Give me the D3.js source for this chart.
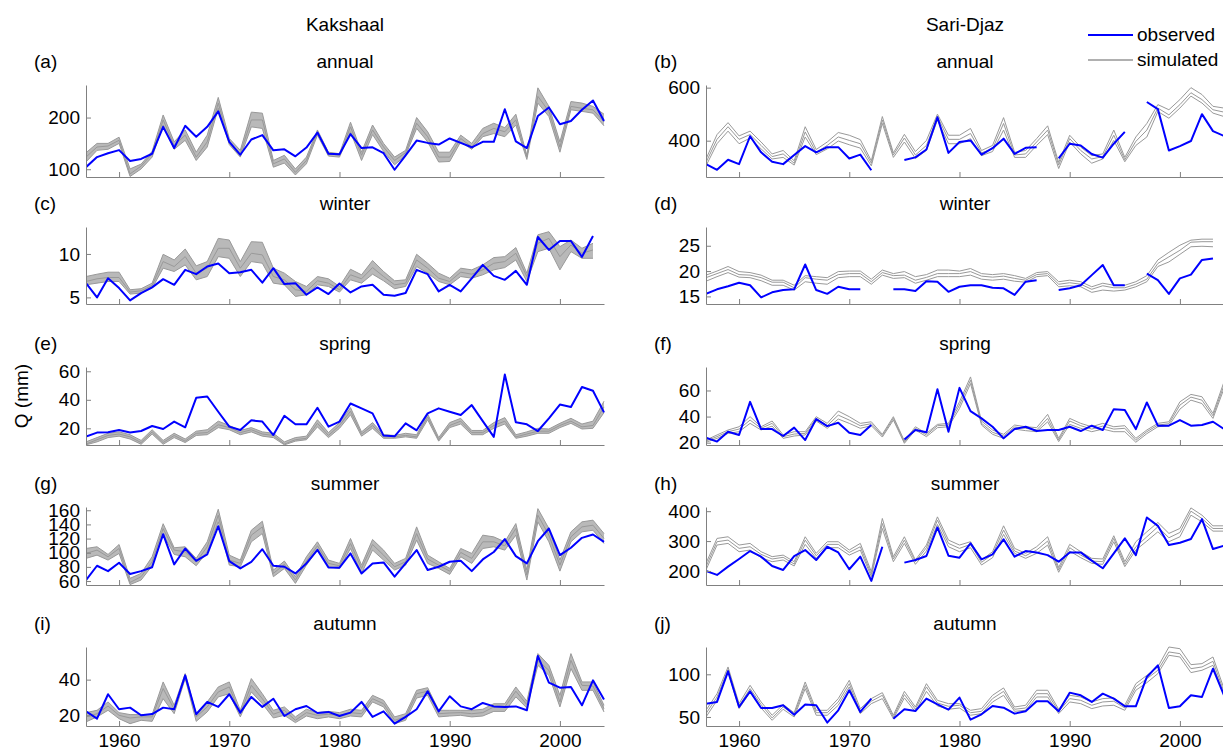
<!doctype html>
<html lang="en">
<head>
  <meta charset="utf-8">
  <title>Kakshaal / Sari-Djaz runoff</title>
  <script src="https://cdn.jsdelivr.net/npm/d3@7"></script>
  <style>
    body { margin: 0; background: #fff; }
    text { font-family: "Liberation Sans", Arial, sans-serif; fill: #000; }
  </style>
</head>
<body>
  <div id="container"></div>
<script>
// ---- data ----
const years = [1957,1958,1959,1960,1961,1962,1963,1964,1965,1966,1967,1968,1969,1970,1971,1972,
  1973,1974,1975,1976,1977,1978,1979,1980,1981,1982,1983,1984,1985,1986,1987,1988,1989,1990,
  1991,1992,1993,1994,1995,1996,1997,1998,1999,2000,2001,2002,2003,2004];
const winterYears = years.slice(0, 47);   // winter series stops in 2003
const xTicks = [1960, 1970, 1980, 1990, 2000];

const columnTitles = ['Kakshaal', 'Sari-Djaz'];
const seasons = ['annual', 'winter', 'spring', 'summer', 'autumn'];
const panelLetters = ['a','b','c','d','e','f','g','h','i','j'];

// Kakshaal
const kakAnnualObs = [104,123.5,131,137,116,120,130,182,141,184,163,182,212,153,128,157.5,166,136.6,138.6,125,142,171,130,129,168,141,142.5,131,99,127,155.5,151,147.7,159.5,151,142.5,153,153,216,154,141,203,219.6,187,193.5,215,233,193.5];
const kakAnnualHi = [132,150,150,162,100.6,110,134.6,205,153,176,133,166,239,159.5,136.6,210.5,208.5,117,127,100.6,123.5,176,133,130,191,133,185.6,150,123.5,136.6,200,172.5,133,133,166,150,179,189,180.4,206.5,127,257.5,221.6,153,231,228,221.6,206.5];
const kakAnnualMid = [123.5,143,145,156,91,106,130,195.4,146,166,123.5,153,228,153,130,195.4,195.4,110.5,120,94,117,171,130,127,182,127,176,143,117,132,189,163,123.5,123.5,159.5,143,169,179,172.5,195.4,123.5,241,212,143,221.6,218,215,192];
const kakAnnualLo = [114,136.6,138.6,150,86,100.6,123.5,185.6,138.6,156,117,143,218,147.7,123.5,182,179,104,112,89,110.5,166,125.5,123.5,172.5,117,167,134.6,108.5,127,179,153,114,115,153,138.6,163,169,163,185.6,119,228,202,133,215,212,208.5,184];

const kakWinterObs = [6.64,5.0,7.2,6.07,4.66,5.5,6.15,7.1,6.45,8.17,7.67,8.55,8.9,7.79,7.9,8.17,6.7,8.36,6.53,6.64,5.3,6.15,5.38,6.6,5.57,6.26,6.45,5.3,5.19,5.5,8.17,7.67,5.69,6.45,5.69,7.2,8.74,7.48,7.02,8.05,6.45,11.95,10.46,11.49,11.49,9.66,12.06];
const kakWinterHi = [7.4,7.67,7.9,7.9,5.88,6.0,6.64,9.96,9.31,10.57,8.63,9.12,11.79,11.6,9.12,11.41,11.34,8.36,7.79,6.83,6.26,7.4,7.14,6.26,8.24,7.6,9.24,7.98,6.91,7.02,9.96,8.93,7.79,7.21,8.36,8.17,8.74,9.58,9.69,10.73,7.79,12.2,12.56,10.84,11.6,10.65,11.22];
const kakWinterMid = [6.83,7.14,7.29,7.29,5.61,5.76,6.37,9.12,8.55,9.69,7.79,8.36,10.65,10.65,8.36,10.08,9.89,7.4,7.02,5.88,5.69,6.91,6.64,5.88,7.6,7.14,8.43,7.4,6.45,6.64,9.31,8.36,7.21,6.83,7.9,7.67,8.17,8.93,9.12,10.08,7.4,11.22,11.79,9.69,11.03,10.08,10.46];
const kakWinterLo = [6.45,6.64,6.83,6.83,5.38,5.5,6.07,8.36,7.98,8.74,7.02,7.4,9.69,9.5,7.4,9.12,8.93,6.64,6.45,5.11,5.3,6.45,6.26,5.61,7.02,6.64,7.67,6.91,6.0,6.26,8.55,7.79,6.83,6.45,7.4,7.21,7.6,8.17,8.43,9.31,6.83,10.27,10.65,8.17,10.27,9.5,9.5];

const kakSpringObs = [14.2,17,17.2,18.8,17,18.1,21.6,19.5,24.7,20.7,41.4,42.3,31.6,21.2,18.8,25.6,24.7,15.3,28.8,22.8,22.8,34.4,21.2,24.7,37.4,34,30.5,14.9,14.4,23.5,18.6,30.5,34,31.6,29.3,36.3,25,14,57.7,24.2,22.8,18.1,27,36.7,35,49,46.3,31.2];
const kakSpringHi = [10.5,13.5,16.5,17.5,15.5,11.5,19,11.5,16.5,12.5,18,19,25,22,18.5,20.5,17.5,16.5,10.5,13.5,14.5,26,17,24,34.5,17.5,24,15.5,15,16.5,15.5,30,13.5,24,27,18.5,18.5,24,27.5,15.5,17.5,20,19.5,23.5,27,23,25,39];
const kakSpringMid = [9,12,15,16,14,10,17.5,10,15,11,16.5,17,22.5,20.5,17,19,16,15,9,12,13,23.5,15,22,32,16,22,14,14,15,14,28,12,22,25,17,17,22,25,14,16,18,18,22,25,21,22,35];
const kakSpringLo = [8.4,10.5,13.5,14.5,12.5,8.8,16,8.8,13.5,10,15,15.5,20.5,19,15.5,17.5,14.5,13.5,8.4,11,12,21,13.5,20,29.5,14.5,20,13,13,14,13,26,11,20.5,23,15.5,15.5,20,23,13,14.5,16.5,16.5,20.5,23.5,19.5,20,31];

const kakSummerObs = [61.4,81.6,74,85.8,69.9,74,79.5,126.2,83.5,106,88.6,97.6,137.5,88.2,77.8,87.2,105,81.6,80.2,70.8,84.9,104,79.2,78.8,99,70.8,84.9,86.3,66.1,84.9,103.7,75.5,80.2,87.2,88.6,74,90.5,101,119.2,95.2,84.9,116.3,134.2,96.6,107,121,125.7,115.4];
const kakSummerHi = [106,108.4,97.6,111.6,63.8,70.8,94.3,141,107,108.4,92,115.4,161.4,96.6,89.6,131.8,144.5,75.5,88.2,66.1,94.3,115.4,89.6,84.9,120.1,82.5,118.7,103.7,84.9,92,136.5,96.6,87.2,77.8,106,99,124.8,122.4,115.4,141.2,75.5,162.3,134.2,89.6,129.5,143.6,146,127.1];
const kakSummerMid = [99,103.7,94.3,106,58,66.1,87.2,134,103.7,101.3,87.2,108.4,153,89.6,84.9,124.8,136.5,70.8,83.5,61.4,88.2,109.8,84.9,81.6,113,77.8,111.6,96.6,80.2,87.2,127.1,91,82.5,74,100.4,92,115.4,115.4,109.8,134.2,68.5,153,124.8,82.5,122.4,136.5,138.9,120.1];
const kakSummerLo = [92,96.6,89.6,99,55,61.4,81.6,125.7,97.6,94.3,81.6,101.3,143.6,82.5,80.2,115.4,127.1,66.1,77.8,56.7,82.5,103.7,80.2,77.8,106,70.8,103.7,89.6,75.5,82.5,117.7,84.9,77.8,69.4,94.3,84.9,106,108.4,103.7,124.8,61.4,143.6,115.4,74,115.4,129.5,131.8,113];

const kakAutumnObs = [22.2,18.1,31.8,23.4,24.3,20,20.7,24.3,23.4,42.4,20.6,27.5,24.7,31.8,21.5,30.3,24.7,29.3,19.6,23.4,25.2,21.3,21.9,19.6,21.5,27.5,19.1,22.2,15.3,19.1,23.4,33.5,22.2,30.7,25,23.4,26.9,25,24.7,25,22.8,53.3,38.3,35.5,35.9,25.6,39.6,28.8];
const kakAutumnHi = [21.5,22.8,27.5,21.5,20.4,20.4,20.4,38.7,25.6,43.4,20.9,27.5,35.9,38.7,22.8,40.6,32.1,22.8,24.7,19.1,23.4,21.5,22.2,21.5,23.4,22.8,31.2,28.4,19.1,20.9,34,35.5,22.8,22.8,22.8,22.8,23.4,26.5,26.5,35.9,27.9,54.6,48,31.2,54.6,38.7,38.7,25.6];
const kakAutumnMid = [19.1,20.9,25.2,20,18.5,19.1,19.1,35,23.4,42,19.1,24.7,33.1,35.9,20.9,36.8,29.3,20.6,22.8,17.2,21.5,20,20.6,20,21.5,20.9,29.3,26.5,17.2,19.1,32.1,33.5,20.9,21.3,21.5,20.9,21.5,24.7,24.7,33.5,26,50.8,45.2,27.5,50.8,36.8,36.4,23.7];
const kakAutumnLo = [16.3,19.1,22.8,18.1,15.3,17.2,16.6,29.3,20.9,40.6,16.6,21.9,30.3,32.1,19.1,33.1,26.5,18.5,20,15.9,19.6,18.1,19.1,18.1,19.6,19.1,27.5,24.7,15.3,17.2,29.7,31.2,19.1,19.6,20,19.1,19.6,22.2,22.2,30.3,24.1,48,42.4,24.7,46.2,34,34,21.9];

// Sari-Djaz (null = no observation)
const sariAnnualObs = [311.5,290,328,311.5,416.7,356,320.5,311.5,346,379.5,356,375.6,375.6,333,347.4,288.5,null,null,327,337,366.7,488.5,354,395,401,347.4,371.8,407.7,350,373,375.6,null,333,388.5,382,350,336,388.5,433,null,546,519,363,379.5,398.7,500,436,418];
const sariAnnualHi = [331,423,468,418,436,395,350,363,324,452.6,366.7,395,430.8,420.5,404,324,491,354,424,359,401,500,420.5,420.5,446,363,382,487,356,363,407.7,456,318,420.5,375.6,343.6,350,440,337,414,465,536,516.7,555,600,574,529.5,523];
const sariAnnualMid = [318,405,452.6,405,423,382,340,350,315,433,356,382,414,401,388.5,315,478,346,410,346,382,491,405,405,427,354,369,465,346,350,395,440,308,407.7,363,331,340,420.5,328,397.4,440,523,497.4,536,580.8,555,516.7,507.7];
const sariAnnualLo = [305,388.5,436,388.5,410,369,331,337,308,414,347.4,369,398.7,384.6,372,305,465,337,395,333,363,478,388.5,388.5,407.7,343.6,359,440,337,337,382,423,295,395,350,315,331,401,320.5,382,414,510,484.6,523,568,542,504,491];

const sariWinterObs = [15.5,16.4,17,17.7,17.2,14.8,15.8,16.25,16.4,21.3,16.25,15.5,16.9,16.4,16.4,null,null,16.4,16.4,16.05,18,17.9,15.9,16.9,17.2,17.2,16.7,16.6,15.3,17.9,18.2,null,16.25,16.6,17.2,19.2,21.2,17.2,17.2,null,19.5,18.2,15.5,18.55,19.3,22.2,22.5];
const sariWinterHi = [19.2,20,20.9,19.9,19.7,19.2,18.2,18.2,17.2,19.1,18.9,18.7,19.9,20,20,18.4,20.2,19.5,19.9,18.9,19.3,20.2,20.2,20,20.5,19.5,19.3,19.5,19.1,18.55,19.7,19.9,17.9,18.2,17.9,16.9,17.6,17.2,17.2,17.9,19.1,22.2,23.7,25.1,26.1,26.3,26.3];
const sariWinterMid = [18.7,19.5,20.3,19.3,19.2,18.7,17.8,17.8,16.7,18.7,18.4,18.2,19.3,19.5,19.5,17.9,19.7,19.1,19.2,18.2,18.75,19.5,19.5,19.5,19.9,19,18.8,19,18.55,18.2,19.3,19.5,17.4,17.7,17.4,16.4,17.1,16.7,16.7,17.4,18.4,21.5,22.8,24.1,25.7,25.8,25.8];
const sariWinterLo = [18,18.9,19.7,18.8,18.7,18.1,17.2,17.2,16.25,17.9,17.6,17.4,18.7,18.9,18.9,17.4,19.2,18.55,18.7,17.6,18.2,18.9,18.9,18.9,19.2,18.4,18.2,18.4,18,17.8,18.9,19.1,16.9,17.1,16.9,15.8,16.25,16.05,16.25,16.9,17.9,20.9,21.8,23.3,24.8,24.9,24.8];

const sariSpringObs = [23.8,20.8,28.4,25.9,51.3,30.4,30.4,25.1,31.5,22,38.1,32.7,35.3,27.6,25.9,33.5,null,null,22.5,29.7,27.9,61,28.4,62,44.2,38.6,32.2,23.3,30.4,32.2,28.9,29.7,29.7,32.2,28.9,33,29.7,45.7,45,30.4,50.8,33,33,37.3,33,33.5,36,30.4];
const sariSpringHi = [22,25.9,29.7,32.2,39.9,32.2,36.6,25.9,28.4,28.4,39.9,34.8,44.2,39.9,34.8,36,26.4,39.9,21.3,32.2,27.1,34,34.8,51.3,70.4,36.6,29.7,26.4,33.5,32.2,31.5,41.7,23.3,38.6,34.8,32.2,34.8,32.2,33,23.3,29.7,34.8,36,51.3,57,55.2,42.4,66.6];
const sariSpringMid = [21.3,24.6,28.4,30.4,37.3,31,34.8,24.6,26.6,27.1,38.6,33,41.1,37.3,33,34.5,25.4,38.6,20.3,31,25.9,33,33.5,48.8,67.9,34.8,27.9,25.1,32,31,29.7,38.6,22,36.6,33,30.4,32.7,30.4,31,21.8,28.4,33.5,34.5,48.8,54.9,52.6,40.6,64];
const sariSpringLo = [20.3,23.3,27.1,28.4,34.8,29.7,32.7,23.3,25.1,25.9,36.6,31,38.1,34.8,31,33,24.3,37.3,19.5,29.7,24.6,31.5,32.2,46.2,65.3,33.5,26.4,23.3,30.4,29.2,28.4,36,20.8,34,31,28.4,30.4,28.4,28.4,20.3,26.9,32.2,33,45.7,52.6,50,38.6,61.5];

const sariSummerObs = [200,186.7,214.4,240,266.7,247.8,216.7,203.3,250,270,236.7,281,262,205.6,247.8,166.7,281,null,227.8,236.7,250,345.6,251,244.4,292.2,238.9,255.6,305.6,247.8,266.7,262,253,231,262,262,234.4,208.9,258.9,308.9,253,378.9,351,286.7,294.4,306.7,373.3,273.3,284.4];
const sariSummerHi = [225.6,308.9,314.4,286.7,292.2,264.4,247.8,253,231,314.4,258.9,297.8,297.8,270,292.2,197.8,375.6,247.8,314.4,236.7,286.7,381,303.3,286.7,297.8,236.7,264.4,351,275.6,258.9,281,314.4,211.1,288.9,264.4,242.2,240,317.8,231,297.8,331,362.2,325.6,342.2,411,386.7,351,351];
const sariSummerMid = [214.4,297.8,303.3,275.6,281,255.6,240,245.6,223.3,303.3,251,288.9,288.9,262,281,188.9,358.9,240,303.3,231,277.8,370,292.2,275.6,288.9,228.9,255.6,336.7,266.7,251,270,300,203.3,277.8,253,233.3,231,308.9,222.2,281,314.4,347.8,311.1,328.9,400,375.6,342.2,342.2];
const sariSummerLo = [203.3,286.7,292.2,264.4,270,244.4,231,236.7,216.7,288.9,242.2,277.8,277.8,253,270,181,342.2,231,292.2,222.2,266.7,355.6,281,264.4,277.8,220,244.4,322.2,258.9,242.2,258.9,286.7,195.6,266.7,244.4,225.6,222.2,297.8,214.4,270,300,331,297.8,314.4,386.7,364.4,333.3,333.3];

const sariAutumnObs = [65.6,67.6,103.5,61.7,80,60.5,60.5,63.7,52.7,64.5,63.7,43.4,57.8,81.3,55.9,71.5,null,48,59,57,71.5,64.8,58.6,72.7,46.9,53.1,62.9,60.9,53.9,56.6,68.4,68.4,56.6,78.5,75.4,67.6,77.3,71.5,62.5,62.5,96.9,110.5,60.5,62.5,75.4,73.4,106.6,75.4];
const sariAutumnHi = [57.8,77.3,108.6,65.6,87.1,67.6,52,64.5,55,91,57.8,57.8,71.5,93,59.8,71.5,78.5,52,80,61.7,89,69.5,65.6,65.6,57.8,59.8,75.4,84,61.7,63.7,81.3,81.3,59,75.4,73.4,67.6,71.5,72.3,63.7,89,98.8,108.6,132,130,111.3,112.5,120.3,83.2];
const sariAutumnMid = [53.9,73.4,105.5,62.9,83.2,64.5,48.8,61.7,52.7,87.1,55,55,67.6,89,56.6,68.4,75.4,50,76.2,59,85.2,66.4,62.5,63.7,55,56.6,71.5,80,59,60.5,77.3,77.3,56.6,71.5,69.5,63.7,67.6,68.4,60.5,85.2,94.9,104.7,126.2,124.2,106.6,108.6,115.2,79.3];
const sariAutumnLo = [50,69.5,102.7,59.8,79.3,60.5,46.1,59,50,83.2,52,52,63.7,85.2,53.9,65.6,71.5,48,72.3,55.9,80,62.9,59,60.5,52,53.9,67.6,75.4,56.6,57.8,73.4,73.4,53.9,67.6,65.6,59.8,62.9,63.7,57.8,81.3,90.2,100.8,122.3,120.3,102,104.7,110.5,75.4];

// y limits (tight, as in the figure) and tick values per panel
const yLimits = [[85,263],[263,610],[4.24,13.1],[13.5,28.7],[8.3,63],[18.2,78],[54.4,164.6],[153,414],[14,58.3],[39.4,132]];
const yTicks = [[100,200],[400,600],[5,10],[15,20,25],[20,40,60],[20,40,60],[60,80,100,120,140,160],[200,300,400],[20,40],[50,100]];

const panels = [
  [kakAnnualObs, kakAnnualHi, kakAnnualMid, kakAnnualLo, years],
  [sariAnnualObs, sariAnnualHi, sariAnnualMid, sariAnnualLo, years],
  [kakWinterObs, kakWinterHi, kakWinterMid, kakWinterLo, winterYears],
  [sariWinterObs, sariWinterHi, sariWinterMid, sariWinterLo, winterYears],
  [kakSpringObs, kakSpringHi, kakSpringMid, kakSpringLo, years],
  [sariSpringObs, sariSpringHi, sariSpringMid, sariSpringLo, years],
  [kakSummerObs, kakSummerHi, kakSummerMid, kakSummerLo, years],
  [sariSummerObs, sariSummerHi, sariSummerMid, sariSummerLo, years],
  [kakAutumnObs, kakAutumnHi, kakAutumnMid, kakAutumnLo, years],
  [sariAutumnObs, sariAutumnHi, sariAutumnMid, sariAutumnLo, years]
];

// ---- layout ----
const W = 1223, H = 750;
const colX = [86, 706], plotW = 518;
const rowTop = [85, 227, 367, 507, 647], rowH = [92, 77, 78, 78, 79];
const axisColor = '#808080', obsColor = '#0000ff', simColor = '#999999', bandColor = '#b9b9b9';
const fontSize = 19;

const svg = d3.select('#container')
  .append('svg')
  .attr('width', W)
  .attr('height', H);

// column titles
columnTitles.forEach((t, c) => {
  svg.append('text')
    .attr('x', colX[c] + plotW / 2)
    .attr('y', 31)
    .attr('text-anchor', 'middle')
    .style('font-size', fontSize + 'px')
    .text(t);
});

panels.forEach((p, i) => {
  const col = i % 2, row = Math.floor(i / 2);
  const [obs, hi, mid, lo, yrs] = p;
  const x0 = colX[col], y0 = rowTop[row], h = rowH[row];

  const x = d3.scaleLinear().domain([1957, 2004]).range([0, plotW]);
  const y = d3.scaleLinear().domain(yLimits[i]).range([h, 0]);

  const g = svg.append('g').attr('transform', `translate(${x0},${y0})`);

  // panel letter and season title
  svg.append('text')
    .attr('x', x0 - 52)
    .attr('y', y0 - 17)
    .style('font-size', fontSize + 'px')
    .text('(' + panelLetters[i] + ')');
  svg.append('text')
    .attr('x', x0 + plotW / 2)
    .attr('y', y0 - 17)
    .attr('text-anchor', 'middle')
    .style('font-size', fontSize + 'px')
    .text(seasons[row]);

  g.append('clipPath').attr('id', 'clip' + i)
    .append('rect').attr('x', 0).attr('y', -1).attr('width', plotW + 2).attr('height', h + 2);

  const plot = g.append('g').attr('clip-path', `url(#clip${i})`);

  const line = arr => d3.line()
    .defined((d, k) => arr[k] != null)
    .x(d => x(d))
    .y((d, k) => y(arr[k]))(yrs);

  // simulated ensemble spread (dense in the Kakshaal runs)
  if (col === 0) {
    plot.append('path')
      .attr('d', d3.area().x(d => x(d)).y0((d, k) => y(lo[k])).y1((d, k) => y(hi[k]))(yrs))
      .attr('fill', bandColor);
  }
  [hi, mid, lo].forEach(s => {
    plot.append('path')
      .attr('d', line(s))
      .attr('fill', 'none')
      .attr('stroke', simColor)
      .attr('stroke-width', 1);
  });

  // observed
  plot.append('path')
    .attr('d', line(obs))
    .attr('fill', 'none')
    .attr('stroke', obsColor)
    .attr('stroke-width', 2)
    .attr('stroke-linejoin', 'round');

  // axes, MATLAB style: ticks inside, no box
  const yAxis = d3.axisLeft(y).tickValues(yTicks[i]).tickSizeInner(-5).tickSizeOuter(0).tickPadding(6);
  const xAxis = d3.axisBottom(x).tickValues(xTicks).tickSizeInner(-5).tickSizeOuter(0).tickPadding(8)
    .tickFormat(row === 4 ? d3.format('d') : () => '');

  const ga = g.append('g').call(yAxis);
  const gx = g.append('g').attr('transform', `translate(0,${h})`).call(xAxis);
  [ga, gx].forEach(a => {
    a.select('.domain').attr('stroke', axisColor);
    a.selectAll('.tick line').attr('stroke', axisColor);
    a.selectAll('.tick text')
      .style('font-size', fontSize + 'px')
      .style('font-family', '"Liberation Sans", Arial, sans-serif')
      .attr('fill', '#000');
  });
});

// y label
svg.append('text')
  .attr('transform', 'translate(28,396) rotate(-90)')
  .attr('text-anchor', 'middle')
  .style('font-size', fontSize + 'px')
  .text('Q (mm)');

// legend
const legend = svg.append('g');
[['observed', obsColor, 35], ['simulated', '#b0b0b0', 60]].forEach(([label, color, ly]) => {
  legend.append('line')
    .attr('x1', 1088).attr('x2', 1133).attr('y1', ly).attr('y2', ly)
    .attr('stroke', color).attr('stroke-width', 2);
  legend.append('text')
    .attr('x', 1137).attr('y', ly + 6)
    .style('font-size', fontSize + 'px')
    .text(label);
});
</script>
</body>
</html>
